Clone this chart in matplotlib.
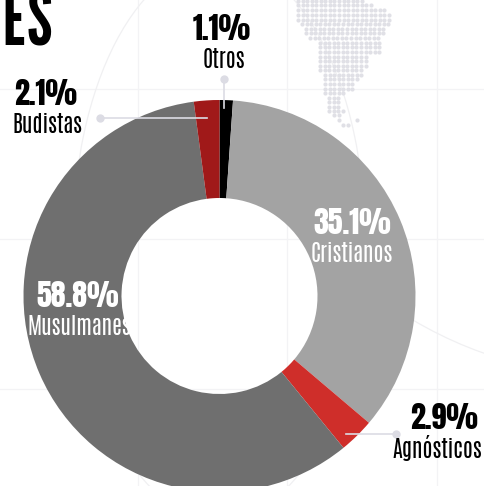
import numpy as np
import matplotlib
matplotlib.use("Agg")
import matplotlib.pyplot as plt
from matplotlib.patches import Arc

# shares, clockwise from the top
labels = ["Otros", "Cristianos", "Agnósticos", "Musulmanes", "Budistas"]
values = [1.1, 35.1, 2.9, 58.8, 2.1]
colors = ["#000000", "#a3a3a3", "#cf2e2a", "#6f6f6f", "#a01919"]

# dotted map: row y, first x, last x (pixels, 4.55 px grid)
map_rows = [(1, 298, 363), (5.5, 298, 372), (10, 298, 385), (15, 298, 389), (20, 298, 389),
            (24.5, 302, 389), (29, 306, 385), (33.5, 306, 385), (38, 310, 381), (43, 320, 381),
            (47, 320, 381), (52, 320, 380), (57, 320, 367), (61, 320, 367), (66, 320, 367),
            (70, 320, 362), (75, 325, 362), (79, 325, 358), (84, 325, 353), (89, 325, 353),
            (93, 325, 344), (98, 329, 339), (102, 329, 339), (107, 329, 339), (111, 329, 339),
            (115, 334, 339)]
map_extra = [(343, 111), (339, 120), (357, 120), (343, 125), (348, 125)]

fig = plt.figure(figsize=(4.84, 4.86), dpi=100)
ax = fig.add_axes([0, 0, 1, 1])

# y axis gets inverted below, so counterclock=True runs clockwise on screen
ax.pie(values, colors=colors, startangle=-90, counterclock=True,
       center=(219.5, 296), radius=196, frame=True,
       wedgeprops=dict(width=98, linewidth=0, zorder=3))
ax.set_xlim(0, 484)
ax.set_ylim(486, 0)
ax.set_aspect("auto")
ax.axis("off")

# background graticule
for x in [138, 287, 437]:
    ax.axvline(x, color="#f3f3f5", lw=0.9, zorder=0)
for y in [89, 239, 389]:
    ax.axhline(y, color="#f3f3f5", lw=0.9, zorder=0)
ax.add_patch(Arc((219, 240), 292, 560, color="#f0f0f2", lw=0.9, zorder=0))
ax.add_patch(Arc((617, -24), 800, 800, theta1=90, theta2=125, color="#f0f0f2", lw=0.9, zorder=0))

xs, ys = [], []
for y, x0, x1 in map_rows:
    for x in np.arange(x0, x1 + 1, 4.55):
        xs.append(x)
        ys.append(y)
for x, y in map_extra:
    xs.append(x)
    ys.append(y)
ax.scatter(xs, ys, s=9, color="#e0e0e6", linewidths=0, zorder=1)

big_font = ["Anton", "League Gothic", "Roboto Condensed", "DejaVu Sans"]
title_font = ["League Gothic", "Anton", "Roboto Condensed", "DejaVu Sans"]
small_font = ["Antonio", "Pathway Gothic One", "Roboto Condensed", "DejaVu Sans"]


def label(xp, xn, y, pct, name, color):
    ax.text(xp, y, pct, family=big_font, fontsize=21.5, color=color, ha="center", va="center", zorder=6)
    ax.text(xn, y + 30, name, family=small_font, fontsize=16, color=color, ha="center", va="center", zorder=6)


ax.text(53, 24, "NES", family=title_font, fontsize=54, color="black", ha="right", va="center", zorder=6)
label(222, 224, 29, "1.1%", "Otros", "black")
label(46, 47, 94, "2.1%", "Budistas", "black")
label(352, 352, 223, "35.1%", "Cristianos", "white")
label(78, 79, 296, "58.8%", "Musulmanes", "white")
label(444, 437, 418, "2.9%", "Agnósticos", "black")

# leader lines
line_c = "#dcdce4"
for xl, yl, dot in [([224, 224], [79, 108], 0), ([100, 207], [118, 118], 0), ([346, 396], [434, 434], 1)]:
    ax.plot(xl, yl, color=line_c, lw=1.2, zorder=5)
    ax.scatter(xl[dot], yl[dot], s=36, color=line_c, linewidths=0, zorder=5)

fig.savefig("out.png", dpi=100)
